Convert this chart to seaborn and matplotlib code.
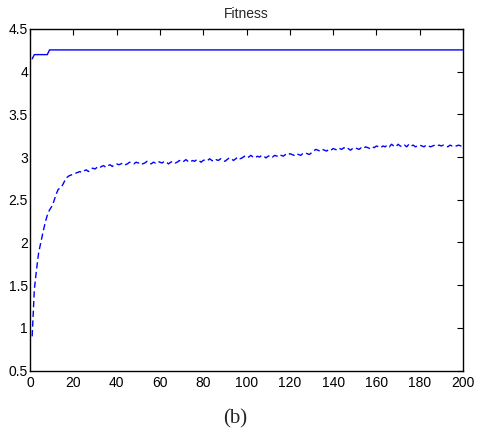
import numpy as np
import pandas as pd
import matplotlib
matplotlib.use("Agg")
import matplotlib.pyplot as plt
import seaborn as sns

# Best-fitness line (step points)
best_gen = [1, 2, 8, 9, 200]
best_fit = [4.15, 4.20, 4.20, 4.255, 4.255]

# Mean-fitness line, generations 1..200
mean_fit = [
    0.90, 1.45, 1.68, 1.88, 2.00, 2.12, 2.23, 2.32, 2.38, 2.42,
    2.48, 2.56, 2.62, 2.64, 2.67, 2.72, 2.76, 2.78, 2.79, 2.80,
    2.81, 2.82, 2.83, 2.82, 2.84, 2.85, 2.83, 2.86, 2.87, 2.86,
    2.88, 2.87, 2.89, 2.90, 2.88, 2.90, 2.91, 2.89, 2.91, 2.92,
    2.91, 2.92, 2.93, 2.91, 2.92, 2.94, 2.93, 2.92, 2.94, 2.93,
    2.94, 2.92, 2.93, 2.95, 2.93, 2.92, 2.94, 2.93, 2.95, 2.94,
    2.93, 2.95, 2.94, 2.92, 2.94, 2.95, 2.93, 2.94, 2.96, 2.94,
    2.95, 2.97, 2.95, 2.94, 2.96, 2.95, 2.97, 2.96, 2.94, 2.96,
    2.97, 2.96, 2.98, 2.96, 2.95, 2.97, 2.96, 2.98, 2.97, 2.95,
    2.97, 2.99, 2.98, 2.96, 2.98, 3.00, 2.98, 2.99, 3.01, 2.99,
    3.00, 3.02, 3.00, 2.99, 3.01, 3.00, 3.02, 3.01, 2.99, 3.01,
    3.02, 3.00, 3.02, 3.01, 3.03, 3.02, 3.01, 3.03, 3.02, 3.04,
    3.03, 3.02, 3.04, 3.03, 3.02, 3.04, 3.05, 3.04, 3.03, 3.05,
    3.07, 3.09, 3.08, 3.07, 3.09, 3.08, 3.07, 3.09, 3.08, 3.10,
    3.09, 3.08, 3.10, 3.09, 3.11, 3.09, 3.10, 3.08, 3.10, 3.11,
    3.10, 3.09, 3.11, 3.10, 3.12, 3.11, 3.10, 3.12, 3.11, 3.13,
    3.12, 3.11, 3.13, 3.12, 3.14, 3.12, 3.15, 3.13, 3.12, 3.15,
    3.13, 3.12, 3.14, 3.12, 3.15, 3.13, 3.14, 3.12, 3.13, 3.14,
    3.13, 3.12, 3.14, 3.13, 3.12, 3.13, 3.14, 3.13, 3.14, 3.13,
    3.14, 3.13, 3.12, 3.14, 3.13, 3.14, 3.13, 3.14, 3.13, 3.13,
]
mean_gen = list(range(1, len(mean_fit) + 1))

x_ticks = [0, 20, 40, 60, 80, 100, 120, 140, 160, 180, 200]
y_ticks = [0.5, 1, 1.5, 2, 2.5, 3, 3.5, 4, 4.5]
y_tick_labels = ["0.5", "1", "1.5", "2", "2.5", "3", "3.5", "4", "4.5"]

sns.set_style("white")
plt.rcParams["font.family"] = ["Liberation Sans", "DejaVu Sans"]

fig = plt.figure(figsize=(4.78, 4.32), dpi=100)
ax = fig.add_axes([30 / 478, 1 - 370.5 / 432, 433 / 478, 341.5 / 432])

df_best = pd.DataFrame({"gen": best_gen, "fit": best_fit})
df_mean = pd.DataFrame({"gen": mean_gen, "fit": mean_fit})

sns.lineplot(data=df_best, x="gen", y="fit", ax=ax, color="#0000ff", lw=1.0)
sns.lineplot(data=df_mean, x="gen", y="fit", ax=ax, color="#0000ff", lw=1.0,
             dashes=False)
ax.lines[-1].set_dashes((4.5, 2.5))

ax.set_xlim(0, 200)
ax.set_ylim(0.5, 4.5)
ax.set_xticks(x_ticks)
ax.set_xticklabels([str(t) for t in x_ticks])
ax.set_yticks(y_ticks)
ax.set_yticklabels(y_tick_labels)
ax.set_xlabel("")
ax.set_ylabel("")
ax.tick_params(direction="in", length=4, width=0.8, top=True, right=True,
               labelsize=10, colors="black")
ax.tick_params(axis="x", pad=4)
ax.tick_params(axis="y", pad=1.5)
for s in ax.spines.values():
    s.set_visible(True)
    s.set_color("black")
    s.set_linewidth(1.0)

ax.set_title("Fitness", fontsize=10, pad=8)

fig.text(235 / 478, 1 - 419 / 432, "(b)", ha="center", va="center",
         fontsize=15, family=["Liberation Serif", "DejaVu Serif"])

fig.savefig("out.png", dpi=100)
